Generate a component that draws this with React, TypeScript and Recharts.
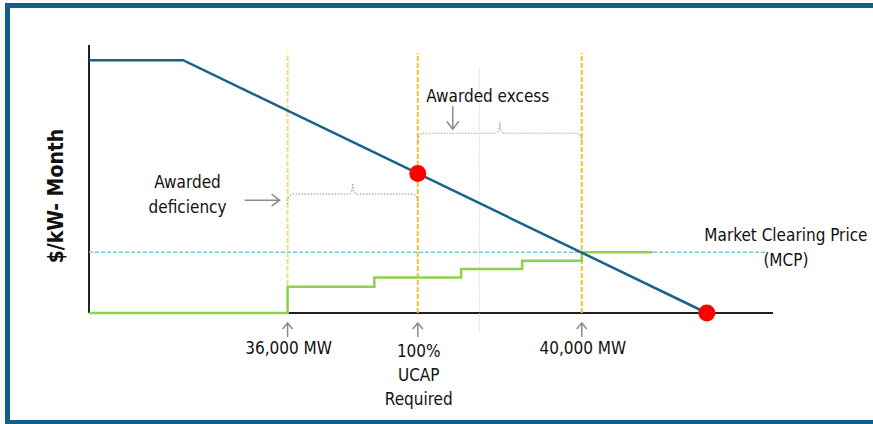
import {
  ComposedChart,
  Line,
  Scatter,
  XAxis,
  YAxis,
  ReferenceLine,
  Customized,
} from "recharts";

// Demand curve (MW, $/kW-month)
const demandMW = [33300, 34580, 41700];
const demandPrice = [10, 10, 0];

// Awarded supply steps
const offerMW = [33300, 36000, 37180, 38360, 39190, 40000, 40960];
const offerPrice = [0, 1.04, 1.4, 1.74, 2.07, 2.4, 2.4];

// Points on the demand curve: 100% UCAP and zero price
const dotMW = [37770, 41700];
const dotPrice = [5.52, 0];

// Marked quantities on the x axis
const markerMW = [36000, 37770, 40000];
const markerLabels = [["36,000 MW"], ["100%", "UCAP", "Required"], ["40,000 MW"]];

const MCP = 2.4;
const midLineMW = 38610;
const deficiencyLevel = 4.7;
const excessLevel = 7.11;

const X_DOMAIN = [33300, 42600];
const Y_DOMAIN = [0, 10.6];

const FONT = "'DejaVu Sans Condensed', 'Liberation Sans Narrow', sans-serif";
const FS = 17;
const FRAME = "#135f87";
const GRAY = "#8c8c8c";
const AXIS = "#222";

const demandData = demandMW.map((mw, i) => ({ mw, price: demandPrice[i] }));
const offerData = offerMW.map((mw, i) => ({ mw, price: offerPrice[i] }));
const dotData = dotMW.map((mw, i) => ({ mw, price: dotPrice[i] }));

function bracePath(x1: number, x2: number, y: number, peak: number, drop: number) {
  const mid = (x1 + x2) / 2;
  return [
    `M ${x1} ${y + drop}`,
    `Q ${x1} ${y} ${x1 + 6} ${y}`,
    `L ${mid - 5} ${y}`,
    `Q ${mid} ${y} ${mid} ${y - peak}`,
    `Q ${mid} ${y} ${mid + 5} ${y}`,
    `L ${x2 - 6} ${y}`,
    `Q ${x2} ${y} ${x2} ${y + drop}`,
  ].join(" ");
}

function MarkerTick(props: any) {
  const { x, payload } = props;
  const i = markerMW.indexOf(payload.value);
  const lines = i >= 0 ? markerLabels[i] : [];
  const top = 323;
  return (
    <g>
      <path
        d={`M ${x} ${top} L ${x} ${top + 14} M ${x - 5} ${top + 6} L ${x} ${top} L ${x + 5} ${top + 6}`}
        stroke={GRAY}
        strokeWidth={1.5}
        fill="none"
      />
      {lines.map((t, k) => (
        <text
          key={t}
          x={x + 1}
          y={354 + k * 24 + (lines.length > 1 ? 3 : 0)}
          textAnchor="middle"
          fontFamily={FONT}
          fontSize={FS}
          fill="#111"
        >
          {t}
        </text>
      ))}
    </g>
  );
}

function DeficiencyBrace(props: any) {
  const { x1, x2, y1 } = props;
  return (
    <g>
      <path d={bracePath(x1, x2, y1, 11, 10)} stroke="#a6a6a6" strokeWidth={1.2} strokeDasharray="1.5 1.5" fill="none" />
      <path
        d={`M ${x1 - 43} ${y1 + 6} L ${x1 - 8} ${y1 + 6} M ${x1 - 16} ${y1} L ${x1 - 8} ${y1 + 6} L ${x1 - 16} ${y1 + 12}`}
        stroke={GRAY}
        strokeWidth={1.5}
        fill="none"
      />
      <text x={x1 - 100} y={y1 - 6} textAnchor="middle" fontFamily={FONT} fontSize={FS} fill="#111">
        Awarded
      </text>
      <text x={x1 - 100} y={y1 + 19} textAnchor="middle" fontFamily={FONT} fontSize={FS} fill="#111">
        deficiency
      </text>
    </g>
  );
}

function ExcessBrace(props: any) {
  const { x1, x2, y1 } = props;
  return (
    <g>
      <path d={bracePath(x1, x2, y1, 11, 10)} stroke="#a6a6a6" strokeWidth={1.2} strokeDasharray="1.5 1.5" fill="none" />
      <path
        d={`M ${x1 + 35} ${y1 - 27} L ${x1 + 35} ${y1 - 4} M ${x1 + 29} ${y1 - 12} L ${x1 + 35} ${y1 - 4} L ${x1 + 41} ${y1 - 12}`}
        stroke={GRAY}
        strokeWidth={1.5}
        fill="none"
      />
      <text x={x1 + 70} y={y1 - 31} textAnchor="middle" fontFamily={FONT} fontSize={FS} fill="#111">
        Awarded excess
      </text>
    </g>
  );
}

function McpLine(props: any) {
  const { x1, x2, y1 } = props;
  return (
    <g>
      <line x1={x1} y1={y1} x2={x2} y2={y1} stroke="#7cc6df" strokeWidth={1.5} strokeDasharray="4 2" />
      <text x={x2 + 21} y={y1 - 11} textAnchor="middle" fontFamily={FONT} fontSize={FS} fill="#111">
        Market Clearing Price
      </text>
      <text x={x2 + 21} y={y1 + 14} textAnchor="middle" fontFamily={FONT} fontSize={FS} fill="#111">
        (MCP)
      </text>
    </g>
  );
}

function YLabel() {
  return (
    <text
      x={57}
      y={196}
      transform="rotate(-90 57 196)"
      textAnchor="middle"
      dominantBaseline="middle"
      fontFamily={FONT}
      fontSize={21}
      fontWeight="bold"
      fill="#111"
    >
      $/kW- Month
    </text>
  );
}

export default function App() {
  return (
    <div style={{ position: "fixed", left: 0, top: 0, width: 873, height: 424, overflow: "hidden", background: "#fff" }}>
      <div
        style={{
          position: "absolute",
          left: 5,
          top: 3,
          width: 868,
          height: 421,
          boxSizing: "border-box",
          borderTop: `5px solid ${FRAME}`,
          borderLeft: `5px solid ${FRAME}`,
          borderBottom: `4px solid ${FRAME}`,
        }}
      />
      <div style={{ position: "absolute", left: 0, top: 0 }}>
        <ComposedChart width={873} height={424} margin={{ top: 45, right: 100, bottom: 110, left: 88 }}>
          <XAxis
            type="number"
            dataKey="mw"
            domain={X_DOMAIN}
            ticks={markerMW}
            interval={0}
            height={1}
            tickLine={false}
            tick={<MarkerTick />}
            axisLine={false}
          />
          <YAxis
            type="number"
            dataKey="price"
            domain={Y_DOMAIN}
            width={1}
            tick={false}
            tickLine={false}
            axisLine={false}
          />
          {/* axis lines drawn as reference lines so the series sit on top */}
          <ReferenceLine y={0} stroke={AXIS} strokeWidth={2} />
          <ReferenceLine x={X_DOMAIN[0]} stroke={AXIS} strokeWidth={2} />
          <ReferenceLine
            segment={[{ x: midLineMW, y: 9.68 }, { x: midLineMW, y: -0.75 }]}
            stroke="#cfcfcf"
            strokeWidth={1}
            strokeDasharray="1 1.5"
            ifOverflow="visible"
          />
          {markerMW.map((mw, i) => (
            <ReferenceLine
              key={mw}
              segment={[{ x: mw, y: 0 }, { x: mw, y: 10.28 }]}
              stroke={i === 0 ? "#f7dc7a" : "#f3bf32"}
              strokeWidth={2}
              strokeDasharray="5 2"
            />
          ))}
          <ReferenceLine
            segment={[{ x: X_DOMAIN[0], y: MCP }, { x: 42490, y: MCP }]}
            shape={<McpLine />}
          />
          <ReferenceLine
            segment={[{ x: markerMW[0], y: deficiencyLevel }, { x: markerMW[1], y: deficiencyLevel }]}
            shape={<DeficiencyBrace />}
          />
          <ReferenceLine
            segment={[{ x: markerMW[1], y: excessLevel }, { x: markerMW[2], y: excessLevel }]}
            shape={<ExcessBrace />}
          />
          <Line
            data={offerData}
            dataKey="price"
            type="stepAfter"
            stroke="#8fd14f"
            strokeWidth={2.5}
            dot={false}
            isAnimationActive={false}
          />
          <Line
            data={demandData}
            dataKey="price"
            type="linear"
            stroke="#176389"
            strokeWidth={2.5}
            dot={false}
            isAnimationActive={false}
          />
          <Scatter
            data={dotData}
            dataKey="price"
            isAnimationActive={false}
            shape={(p: any) => <circle cx={p.cx} cy={p.cy} r={8.5} fill="#ff0000" />}
          />
          <Customized component={<YLabel />} />
        </ComposedChart>
      </div>
    </div>
  );
}
